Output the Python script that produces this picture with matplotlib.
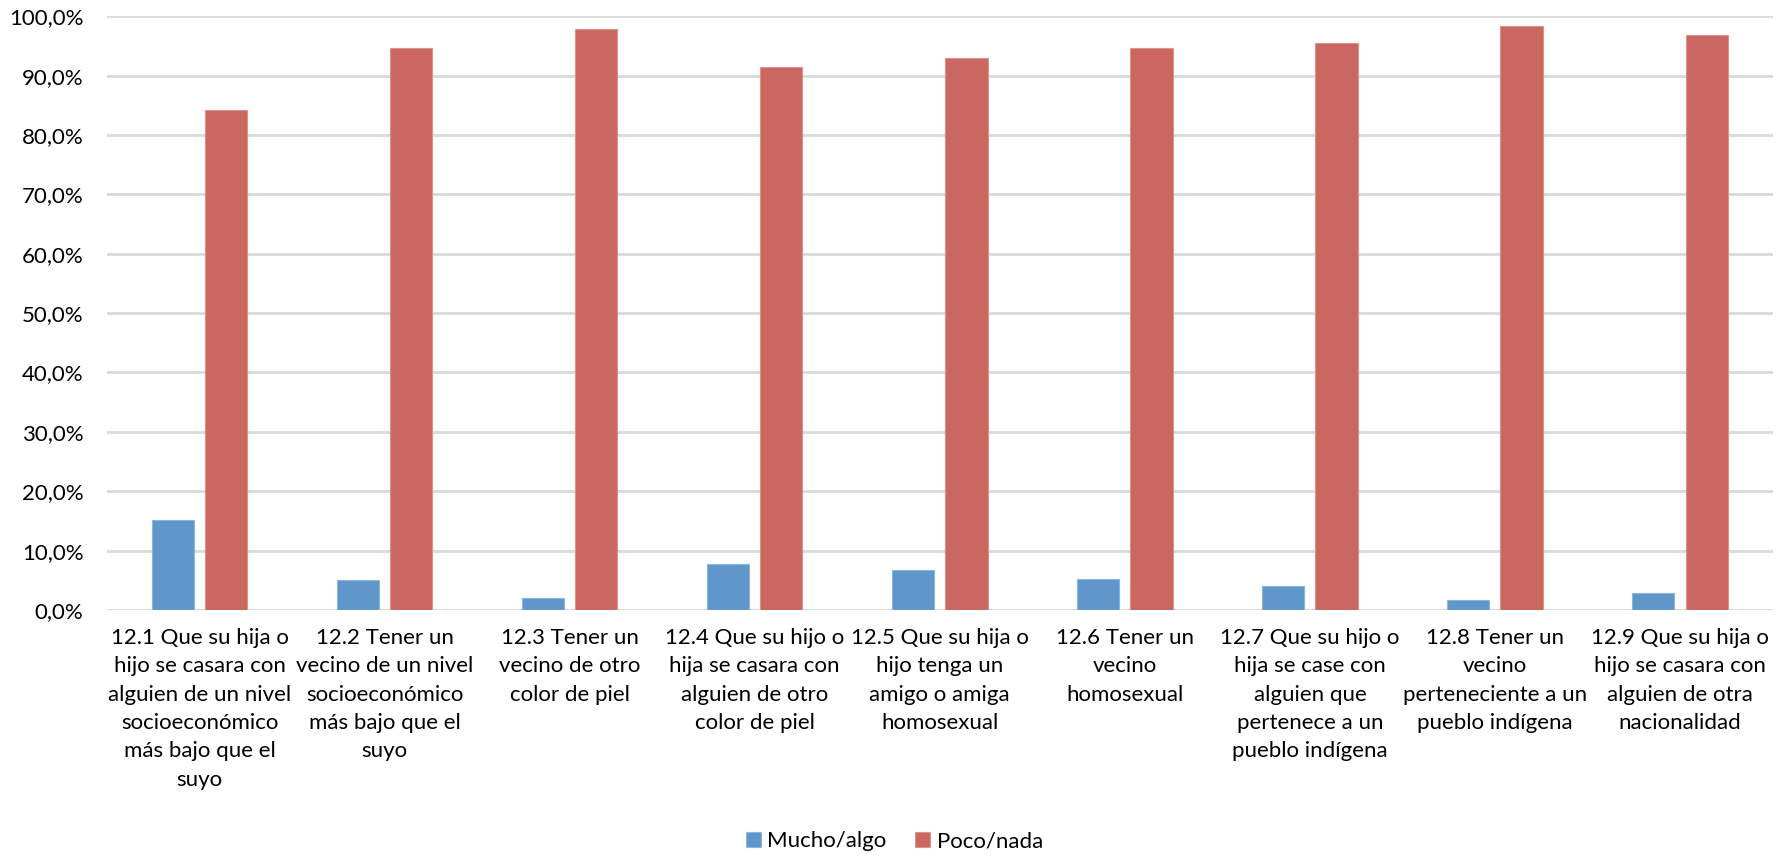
import matplotlib
matplotlib.use("Agg")
import matplotlib.pyplot as plt
from matplotlib.ticker import FuncFormatter
import numpy as np

plt.rcParams['font.family'] = ['Lato', 'DejaVu Sans']

categories = [
    "12.1 Que su hija o\nhijo se casara con\nalguien de un nivel\nsocioeconómico\nmás bajo que el\nsuyo",
    "12.2 Tener un\nvecino de un nivel\nsocioeconómico\nmás bajo que el\nsuyo",
    "12.3 Tener un\nvecino de otro\ncolor de piel",
    "12.4 Que su hijo o\nhija se casara con\nalguien de otro\ncolor de piel",
    "12.5 Que su hija o\nhijo tenga un\namigo o amiga\nhomosexual",
    "12.6 Tener un\nvecino\nhomosexual",
    "12.7 Que su hijo o\nhija se case con\nalguien que\npertenece a un\npueblo indígena",
    "12.8 Tener un\nvecino\nperteneciente a un\npueblo indígena",
    "12.9 Que su hija o\nhijo se casara con\nalguien de otra\nnacionalidad",
]
mucho_algo = [15.2, 5.1, 2.1, 7.7, 6.7, 5.2, 4.0, 1.6, 2.8]
poco_nada = [84.2, 94.7, 97.8, 91.5, 92.9, 94.6, 95.5, 98.3, 96.8]

blue = "#5F97CB"
red = "#CC6660"

fig = plt.figure(figsize=(17.89, 8.56), dpi=100)
ax = fig.add_axes([0.0598, 0.2874, 0.931, 0.6936])

x = np.arange(len(categories))
w = 0.228
gap = 0.06
ax.bar(x - (w + gap) / 2, mucho_algo, w, color=blue, edgecolor="#8DB6DD",
       linewidth=0.8, label="Mucho/algo", zorder=3)
ax.bar(x + (w + gap) / 2, poco_nada, w, color=red, edgecolor="#DC928D",
       linewidth=0.8, label="Poco/nada", zorder=3)

ax.set_xlim(-0.5, len(categories) - 0.5)
ax.set_ylim(0, 100)
ax.set_yticks(np.arange(0, 101, 10))
ax.yaxis.set_major_formatter(FuncFormatter(lambda v, p: f"{v:.1f}%".replace(".", ",")))
ax.grid(axis="y", color="#D9D9D9", linewidth=2, zorder=0)
ax.set_xticks(x)
ax.set_xticklabels(categories, fontsize=16, linespacing=1.52)
ax.tick_params(axis="both", length=0, labelsize=16, colors="#000000")
ax.tick_params(axis="x", pad=13)
ax.tick_params(axis="y", pad=17)
for s in ax.spines.values():
    s.set_visible(False)

leg = fig.legend(loc="lower center", bbox_to_anchor=(0.5, -0.018), ncol=2,
                 frameon=False, fontsize=16, handlelength=0.65, handleheight=0.65,
                 handletextpad=0.3, columnspacing=1.3)

fig.savefig("out.png", dpi=100, facecolor="white")
